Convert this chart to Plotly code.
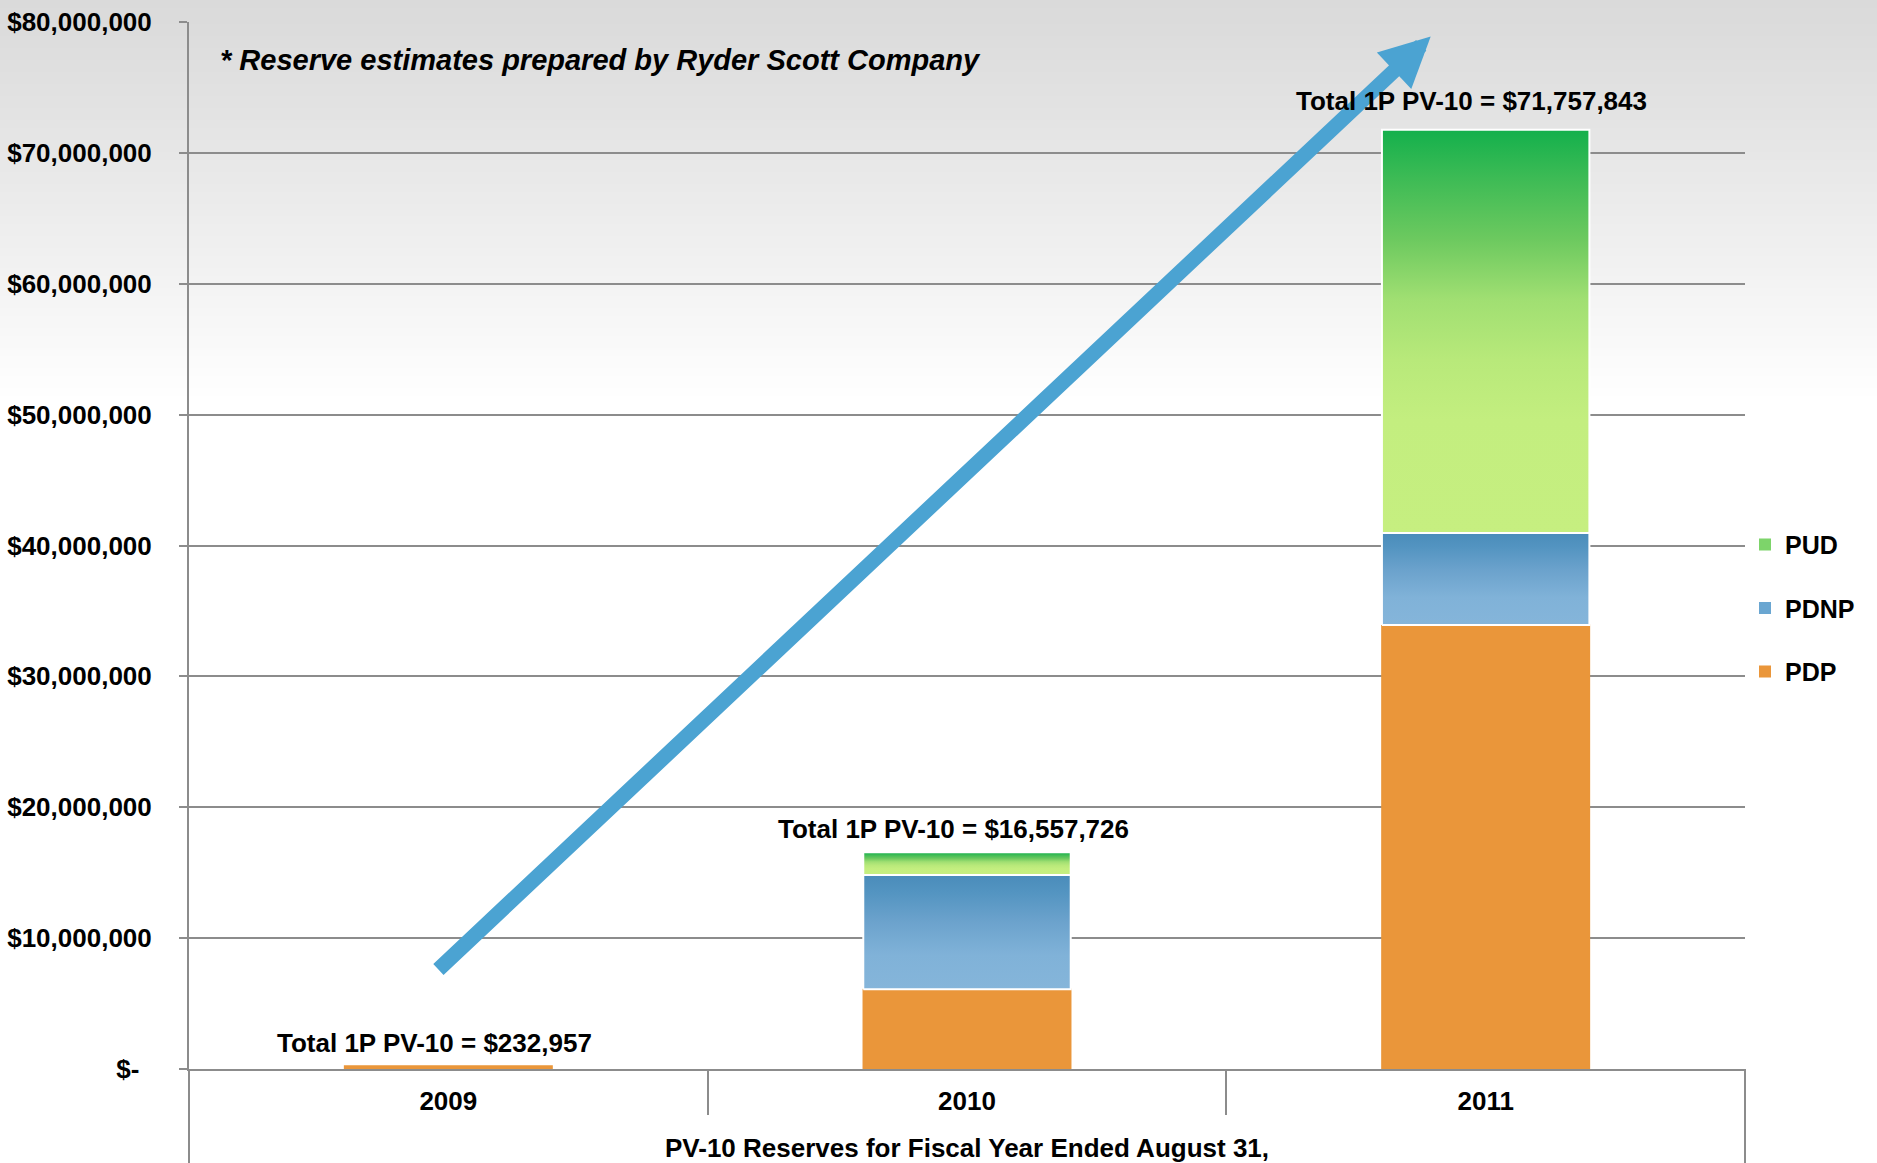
import plotly.graph_objects as go

# ---------------- data ----------------
years = ["2009", "2010", "2011"]
pdp = [232957, 6090000, 33920000]
pdnp = [0, 8730000, 7030000]
pud = [0, 1737726, 30807843]
totals = [232957, 16557726, 71757843]
y_ticks = [0, 10e6, 20e6, 30e6, 40e6, 50e6, 60e6, 70e6, 80e6]
y_tick_labels = ["$-\u00a0\u2009", "$10,000,000", "$20,000,000", "$30,000,000",
                 "$40,000,000", "$50,000,000", "$60,000,000", "$70,000,000",
                 "$80,000,000"]
note_text = "* Reserve estimates prepared by Ryder Scott Company"
x_title = "PV-10 Reserves for Fiscal Year Ended August 31,"

# arrow decoration (axis units)
arrow_tail = (-0.022, 7.5e6)
arrow_tip = (1.894, 78.9e6)

# ---------------- styling ----------------
FONT = "Liberation Sans, Arial, sans-serif"
GRID = "#8C8C8C"
W, H = 1877, 1163
ML, MR, MT, MB = 189, 132, 22, 94
PH = H - MT - MB
BAR_W = 0.4
HW = BAR_W / 2

pud_scale = [[0, "#C6EF80"], [0.28, "#C3EE7F"], [0.43, "#B8E97A"], [0.58, "#A0DF72"],
             [0.73, "#6CC95F"], [0.88, "#3DBB55"], [1, "#14B04C"]]
pdnp_scale = [[0, "#85B5DA"], [0.3, "#80B2D8"], [0.6, "#6BA2CC"], [0.85, "#5394C1"],
              [1, "#4A8CBA"]]
PDP_COLOR = "#EA963A"

x_pos = list(range(len(years)))

fig = go.Figure()

series = [("PDP", pdp, PDP_COLOR, None, 3),
          ("PDNP", pdnp, "#6AA6D1", pdnp_scale, 2),
          ("PUD", pud, "#7DD46A", pud_scale, 1)]

# stacked bars (legend + structure)
for name, vals, color, _, rank in series:
    fig.add_trace(go.Bar(
        x=x_pos, y=[v if v else None for v in vals], name=name, width=BAR_W,
        marker=dict(color=color, line=dict(width=0)),
        legendgroup=name, legendrank=rank, hoverinfo="skip"))

# gradient overlays on each stacked segment
base = [0] * len(years)
for name, vals, color, scale, _ in series:
    for i, v in enumerate(vals):
        if not v:
            continue
        b, t = base[i], base[i] + v
        xs = [x_pos[i] - HW, x_pos[i] + HW, x_pos[i] + HW, x_pos[i] - HW, x_pos[i] - HW]
        ys = [b, b, t, t, b]
        kw = dict(x=xs, y=ys, mode="lines", fill="toself", showlegend=False,
                  hoverinfo="skip")
        if scale is None:
            kw["fillcolor"] = color
            kw["line"] = dict(color=color, width=1.5)
        else:
            kw["fillgradient"] = dict(type="vertical", colorscale=scale)
            kw["line"] = dict(color="white", width=2)
        fig.add_trace(go.Scatter(**kw))
    base = [base[i] + vals[i] for i in range(len(years))]

# background gradient bands (pixel rows -> paper coords)
shapes = []
step = 4
for py in range(0, 420, step):
    f = min(1.0, (py / 400.0) ** 1.1)
    c = int(round(218 + (255 - 218) * f))
    y0 = (H - MB - py) / PH
    y1 = (H - MB - py - step) / PH
    shapes.append(dict(type="rect", xref="paper", yref="paper",
                       x0=-ML / (W - ML - MR) - 0.01, x1=(W - ML) / (W - ML - MR) + 0.01,
                       y0=y1, y1=y0, fillcolor=f"rgb({c},{c},{c})",
                       line=dict(width=0), layer="below"))
# frame lines extending below the axis
for xx in (0, 1):
    shapes.append(dict(type="line", xref="paper", yref="paper", x0=xx, x1=xx,
                       y0=0, y1=-MB / PH, line=dict(color=GRID, width=2)))

annotations = []
# big arrow
annotations.append(dict(x=arrow_tip[0], y=arrow_tip[1], ax=arrow_tail[0], ay=arrow_tail[1],
                        xref="x", yref="y", axref="x", ayref="y", text="",
                        showarrow=True, arrowhead=2, arrowsize=0.67, arrowwidth=15,
                        arrowcolor="#4BA3D2"))
# totals
label_shift = [6, 6, 12]
for i, tot in enumerate(totals):
    annotations.append(dict(x=x_pos[i], y=tot, xref="x", yref="y",
                            text=f"Total 1P PV-10 = ${tot:,}", showarrow=False,
                            yanchor="bottom", yshift=label_shift[i], xshift=-14,
                            font=dict(family=FONT, size=26, color="black", weight="bold")))
# note
annotations.append(dict(x=(218 - ML) / (W - ML - MR), y=(H - MB - 60) / PH,
                        xref="paper", yref="paper", xanchor="left", yanchor="middle",
                        text=note_text, showarrow=False,
                        font=dict(family=FONT, size=29, color="black", weight="bold",
                                  style="italic")))

bounds = [p - 0.5 for p in x_pos] + [x_pos[-1] + 0.5]

fig.update_layout(
    width=W, height=H,
    margin=dict(l=ML, r=MR, t=MT, b=MB, autoexpand=False),
    paper_bgcolor="white", plot_bgcolor="rgba(0,0,0,0)",
    barmode="stack", bargap=0.6,
    font=dict(family=FONT, color="black"),
    showlegend=True,
    legend=dict(x=1.0, xanchor="left", y=0.44, yanchor="middle",
                traceorder="grouped", tracegroupgap=28,
                font=dict(family=FONT, size=25, color="black", weight="bold"),
                bgcolor="rgba(0,0,0,0)"),
    xaxis=dict(range=[-0.5, 2.5], tickmode="array", tickvals=x_pos, ticktext=years,
               ticks="", showgrid=False, zeroline=False, showline=True,
               linecolor=GRID, linewidth=2, ticklabelstandoff=8,
               tickfont=dict(family=FONT, size=26, color="black", weight="bold"),
               minor=dict(tickmode="array", tickvals=bounds, ticks="outside", ticklen=44,
                          tickwidth=2, tickcolor=GRID, showgrid=False),
               title=dict(text=x_title, standoff=24,
                          font=dict(family=FONT, size=26, color="black", weight="bold")),
               automargin=False, fixedrange=True),
    yaxis=dict(range=[0, 80e6], tickmode="array", tickvals=y_ticks, ticktext=y_tick_labels,
               ticks="outside", ticklen=8, tickwidth=2, tickcolor=GRID,
               showgrid=True, gridcolor=GRID, gridwidth=2, zeroline=False,
               showline=True, linecolor=GRID, linewidth=2, ticklabelstandoff=22,
               tickfont=dict(family=FONT, size=26, color="black", weight="bold"),
               automargin=False, fixedrange=True),
    shapes=shapes,
    annotations=annotations,
)

fig.write_html("out.html")
